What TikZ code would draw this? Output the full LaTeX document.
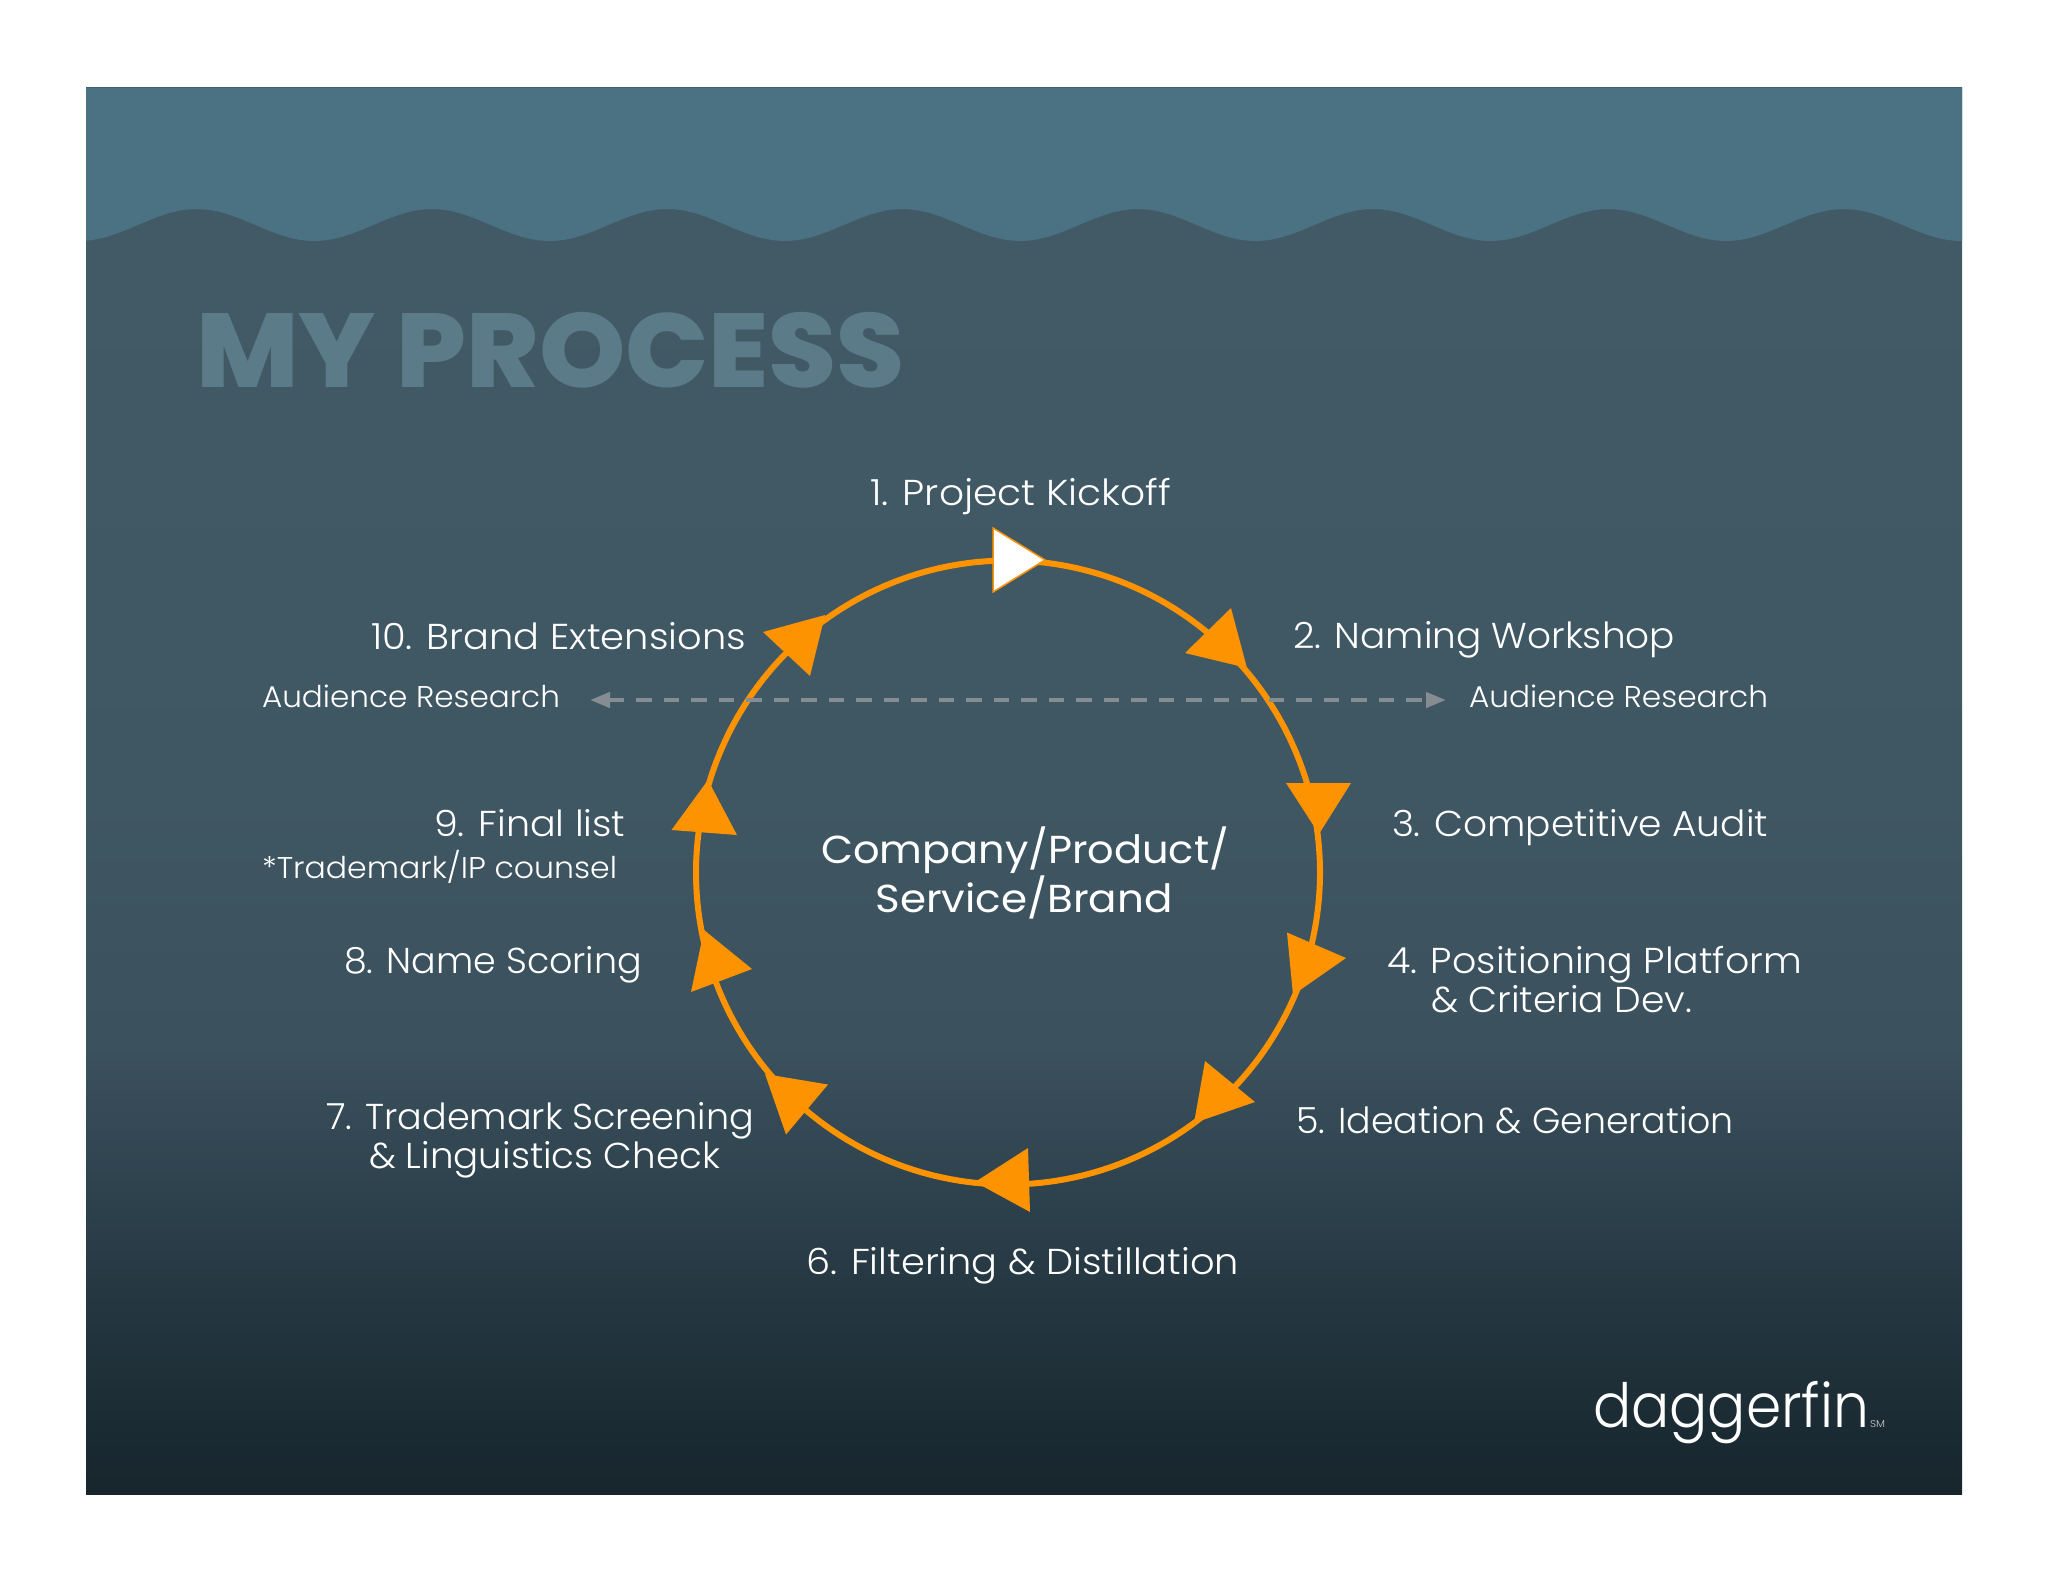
\documentclass[tikz,border=0pt]{standalone}
\usepackage{fontspec}
\usepackage{graphicx}
\usetikzlibrary{arrows.meta}
\newfontfamily\bodyf{Poppins}[UprightFont=* Light]
\newfontfamily\centref{Poppins}
\newfontfamily\titlef{Poppins}[UprightFont=* ExtraBold]
\definecolor{topband}{HTML}{4A7283}
\definecolor{titlec}{HTML}{5B7B89}
\definecolor{orangec}{HTML}{FD9300}
\definecolor{dashc}{HTML}{858D92}
\definecolor{bgA}{HTML}{425A66}
\definecolor{bgB}{HTML}{3F5763}
\definecolor{bgC}{HTML}{3B515D}
\definecolor{bgD}{HTML}{2F444F}
\definecolor{bgE}{HTML}{243640}
\definecolor{bgF}{HTML}{1A2A32}
\definecolor{bgG}{HTML}{18252C}
% shading: 25bp = bottom of the panel, 75bp = top
\pgfdeclareverticalshading{panelshade}{100bp}{color(0bp)=(bgG); color(25bp)=(bgG); color(27bp)=(bgF); color(31.7bp)=(bgE); color(36.3bp)=(bgD); color(41bp)=(bgC); color(49.7bp)=(bgB); color(69bp)=(bgA); color(100bp)=(bgA)}
\newsavebox{\fitbox}
\newcommand{\fitw}[2]{\sbox{\fitbox}{#2}\pgfmathsetmacro{\fitratio}{#1/\the\wd\fitbox}\scalebox{\fitratio}[1]{\usebox{\fitbox}}}
\tikzset{
  lab/.style={text=white,inner sep=0pt,outer sep=0pt,anchor=base west},
  big/.style={lab,font=\bodyf\fontsize{36}{36}\selectfont},
  small/.style={lab,font=\bodyf\fontsize{30}{30}\selectfont},
  mid/.style={lab,font=\centref\fontsize{39}{39}\selectfont},
  ring/.style={draw=orangec,line width=6pt},
  tri/.style={fill=orangec,draw=none},
  whitetri/.style={fill=white,draw=orangec,line width=1.5pt},
  research/.style={draw=dashc,line width=4.2pt,dash pattern=on 15.5pt off 12pt,{Triangle[length=20pt,width=15pt]}-{Triangle[length=20pt,width=15pt]}}
}
\begin{document}
\begin{tikzpicture}[x=1pt,y=-1pt]
\useasboundingbox (0,0) rectangle (2048,1582);
\fill[white] (0,0) rectangle (2048,1582);
\shade[shading=panelshade] (86,87.5) rectangle (1962,1494);
\fill[topband] (86,87.5) -- plot[domain=86:1962,samples=240] (\x,{225+16*cos((\x-79)/235.3*360)}) -- (1962,87.5) -- cycle;
\node[lab,text=titlec,font=\titlef\fontsize{105}{105}\selectfont] (title) at (196,387) {\fitw{709}{MY PROCESS}};

% ring: arcs between named points lying under the arrowheads
\begin{scope}[shift={(1008,872.5)}]
\coordinate (p1) at (-88:312);
\coordinate (p2) at (-47:312);
\coordinate (p3) at (-10:312);
\coordinate (p4) at (16:312);
\coordinate (p5) at (46:312);
\coordinate (p6) at (90:312);
\coordinate (p7) at (134:312);
\coordinate (p8) at (163:312);
\coordinate (p9) at (191:312);
\coordinate (p10) at (228:312);
\end{scope}
\draw[ring] (p1) arc[start angle=-88,end angle=-47,radius=312];
\draw[ring] (p2) arc[start angle=-47,end angle=-10,radius=312];
\draw[ring] (p3) arc[start angle=-10,end angle=16,radius=312];
\draw[ring] (p4) arc[start angle=16,end angle=46,radius=312];
\draw[ring] (p5) arc[start angle=46,end angle=90,radius=312];
\draw[ring] (p6) arc[start angle=90,end angle=134,radius=312];
\draw[ring] (p7) arc[start angle=134,end angle=163,radius=312];
\draw[ring] (p8) arc[start angle=163,end angle=191,radius=312];
\draw[ring] (p9) arc[start angle=191,end angle=228,radius=312];
\draw[ring] (p10) arc[start angle=228,end angle=272,radius=312];

% arrowheads
\filldraw[whitetri] (993,528) -- (993,592) -- (1045,560) -- cycle;
\fill[tri] (1231,608) -- (1185,653) -- (1247,668) -- cycle;
\fill[tri] (1286,783) -- (1351,783) -- (1319,834) -- cycle;
\fill[tri] (1287,932.5) -- (1293,995) -- (1346,958) -- cycle;
\fill[tri] (1205,1061) -- (1194,1123) -- (1255,1102) -- cycle;
\fill[tri] (1028,1148) -- (1030,1212) -- (975,1182) -- cycle;
\fill[tri] (828,1084.5) -- (786,1134.5) -- (765,1074) -- cycle;
\fill[tri] (704,930) -- (691,992) -- (752,969) -- cycle;
\fill[tri] (708,780) -- (671.5,830) -- (737,835) -- cycle;
\fill[tri] (825,615) -- (763,632) -- (810,676) -- cycle;

% audience research line
\coordinate (resL) at (590,700);
\coordinate (resR) at (1446,700);
\draw[research] (resL) -- (resR);

% labels
\node[big] (s1) at (870,505) {\fitw{301}{1. Project Kickoff}};
\node[big] (s2) at (1293,648.5) {\fitw{382}{2. Naming Workshop}};
\node[big] (s3) at (1392,836) {\fitw{376}{3. Competitive Audit}};
\node[big] (s4a) at (1387,973) {\fitw{415}{4. Positioning Platform}};
\node[big] (s4b) at (1431,1012.5) {\fitw{261}{\& Criteria Dev.}};
\node[big] (s5) at (1296,1133.5) {\fitw{438}{5. Ideation \& Generation}};
\node[big] (s6) at (806,1274) {\fitw{433}{6. Filtering \& Distillation}};
\node[big] (s7a) at (326,1129.5) {\fitw{428}{7. Trademark Screening}};
\node[big] (s7b) at (369,1168) {\fitw{351}{\& Linguistics Check}};
\node[big] (s8) at (344,973.5) {\fitw{298}{8. Name Scoring}};
\node[big] (s9) at (434,836) {\fitw{191.5}{9. Final list}};
\node[small] (s9n) at (262,878.5) {\fitw{355}{*Trademark/IP counsel}};
\node[big] (s10) at (371,649) {\fitw{375}{10. Brand Extensions}};
\node[small] (arL) at (262,707) {\fitw{298}{Audience Research}};
\node[small] (arR) at (1469,707) {\fitw{299}{Audience Research}};
\node[mid] (ctrA) at (821,863) {\fitw{408}{Company/Product/}};
\node[mid] (ctrB) at (875.5,912) {\fitw{297}{Service/Brand}};
\node[lab,font=\bodyf\fontsize{61}{61}\selectfont] (logo) at (1593,1427) {\fitw{276}{daggerfin}};
\node[lab,text=white!80!black,font=\bodyf\fontsize{10}{10}\selectfont] (logosm) at (1870,1427) {\fitw{15}{SM}};
\end{tikzpicture}
\end{document}
